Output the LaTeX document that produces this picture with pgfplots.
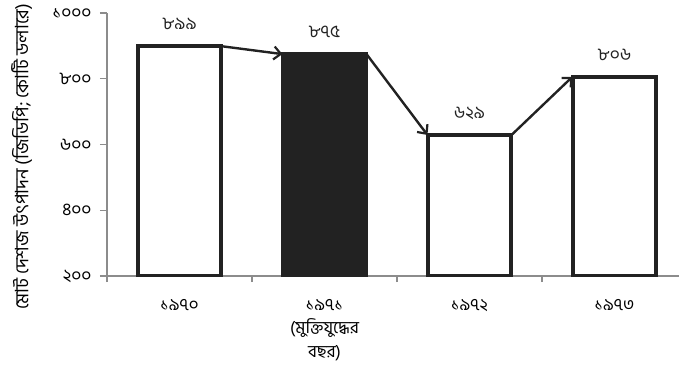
\documentclass[border=0pt]{standalone}
\usepackage{fontspec}
\setmainfont[Script=Bengali]{Hind Siliguri}
\usepackage{pgfplots}
\usepackage{pgfplotstable}
\pgfplotsset{compat=1.18}
\usetikzlibrary{arrows.meta}

\definecolor{barblack}{HTML}{222222}
\definecolor{axisgray}{HTML}{8C8C8C}

% GDP by year (crore dollars)
\pgfplotstableread{
x y label
0 899 ৮৯৯
1 875 ৮৭৫
2 629 ৬২৯
3 806 ৮০৬
}\gdpdata

\begin{document}
\begin{tikzpicture}
\useasboundingbox (-107pt,-91pt) rectangle (572pt,276pt);
\begin{axis}[
  scale only axis,
  width=572pt, height=263pt,
  xmin=-0.5, xmax=3.445,
  ymin=200, ymax=1000,
  axis x line=bottom, axis y line=left,
  axis line style={-, draw=axisgray, line width=1.3pt},
  tick align=outside,
  tick style={draw=axisgray, line width=1.1pt},
  major tick length=7pt,
  minor tick length=6pt,
  xtick={0,1,2,3},
  xticklabels={১৯৭০,{১৯৭১\\(মুক্তিযুদ্ধের\\বছর)},১৯৭২,১৯৭৩},
  major x tick style={draw=none},
  minor xtick={-0.5,0.5,1.5,2.5},
  xticklabel style={align=center, anchor=north, inner sep=0pt, yshift=-16pt,
    font=\fontsize{17}{23.5}\selectfont},
  ytick={200,400,600,800,1000},
  yticklabels={২০০,৪০০,৬০০,৮০০,১০০০},
  yticklabel style={font=\fontsize{17.5}{18}\selectfont, xshift=-5pt},
  ylabel={মোট দেশজ উৎপাদন (জিডিপি; কোটি ডলারে)},
  every axis y label/.style={at={(axis description cs:0,0.5)}, rotate=90,
    anchor=center, xshift=-12.5pt, yshift=85.5pt,
    font=\fontsize{18.5}{20}\selectfont},
]
% all four bars with their values
\addplot[ybar, bar shift=0pt, bar width=0.575, fill=white, draw=barblack,
  line width=3.5pt,
  nodes near coords, point meta=explicit symbolic,
  nodes near coords style={anchor=center, yshift=22pt,
    font=\fontsize{17.5}{18}\selectfont, text=barblack}]
  table[x=x, y=y, meta=label]{\gdpdata};
% the war year in solid black
\addplot[ybar, bar shift=0pt, bar width=0.575, fill=barblack, draw=barblack,
  line width=3.5pt] coordinates {(1,875)};
% year-to-year change arrows
\addplot[sharp plot, draw=barblack, line width=2.4pt,
  -{Straight Barb[length=7pt, width=13pt, line width=2.2pt]}]
  coordinates {(0.29,899) (0.71,875)};
\addplot[sharp plot, draw=barblack, line width=2.4pt,
  -{Straight Barb[length=7pt, width=13pt, line width=2.2pt]}]
  coordinates {(1.29,875) (1.71,629)};
\addplot[sharp plot, draw=barblack, line width=2.4pt,
  -{Straight Barb[length=7pt, width=13pt, line width=2.2pt]}]
  coordinates {(2.29,629) (2.71,806)};
\end{axis}
\end{tikzpicture}
\end{document}
